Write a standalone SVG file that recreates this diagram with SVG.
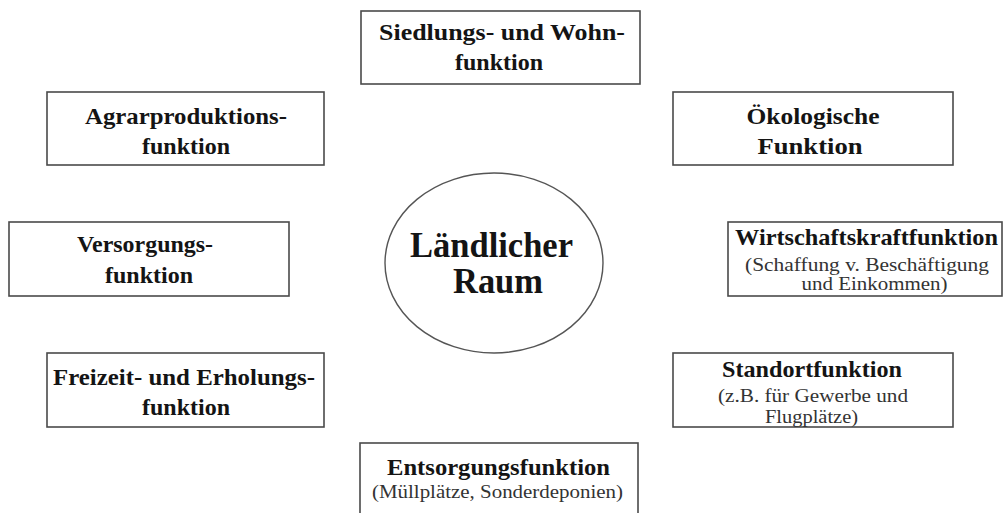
<svg xmlns="http://www.w3.org/2000/svg" width="1003" height="513" viewBox="0 0 1003 513">
<style>
.box{fill:#fff;stroke:#4a4a4a;stroke-width:1.6}
.ell{fill:#fff;stroke:#555;stroke-width:1.4}
text{font-family:"Liberation Serif","Times New Roman",serif;fill:#141414;text-anchor:middle}
.b{font-weight:bold;font-size:23px}
.s{font-size:19px;fill:#333}
.c{font-weight:bold;font-size:35px}
</style>
<rect width="1003" height="513" fill="#fff"/>
<g id="connectors"></g>
<g id="center">
<ellipse class="ell" cx="494" cy="263" rx="109" ry="90"/>
<text class="c" x="491.5" y="257" textLength="163" lengthAdjust="spacingAndGlyphs">Ländlicher</text>
<text class="c" x="498" y="293" textLength="90" lengthAdjust="spacingAndGlyphs">Raum</text>
</g>
<g id="siedlung">
<rect class="box" x="361" y="11" width="279" height="73"/>
<text class="b" x="502" y="40" textLength="246" lengthAdjust="spacingAndGlyphs">Siedlungs- und Wohn-</text>
<text class="b" x="499" y="70" textLength="88" lengthAdjust="spacingAndGlyphs">funktion</text>
</g>
<g id="agrar">
<rect class="box" x="47" y="92" width="277" height="73"/>
<text class="b" x="186" y="124" textLength="202" lengthAdjust="spacingAndGlyphs">Agrarproduktions-</text>
<text class="b" x="186" y="154" textLength="88" lengthAdjust="spacingAndGlyphs">funktion</text>
</g>
<g id="oekologisch">
<rect class="box" x="673" y="92" width="280" height="73"/>
<text class="b" x="813" y="124" textLength="133" lengthAdjust="spacingAndGlyphs">Ökologische</text>
<text class="b" x="810" y="154" textLength="105" lengthAdjust="spacingAndGlyphs">Funktion</text>
</g>
<g id="versorgung">
<rect class="box" x="9" y="222" width="280" height="74"/>
<text class="b" x="145" y="252" textLength="136" lengthAdjust="spacingAndGlyphs">Versorgungs-</text>
<text class="b" x="149" y="283" textLength="88" lengthAdjust="spacingAndGlyphs">funktion</text>
</g>
<g id="wirtschaft">
<rect class="box" x="728" y="222" width="274" height="74"/>
<text class="b" x="866.5" y="245" textLength="263" lengthAdjust="spacingAndGlyphs">Wirtschaftskraftfunktion</text>
<text class="s" x="867" y="271" textLength="244" lengthAdjust="spacingAndGlyphs">(Schaffung v. Beschäftigung</text>
<text class="s" x="874.5" y="290" textLength="146" lengthAdjust="spacingAndGlyphs">und Einkommen)</text>
</g>
<g id="freizeit">
<rect class="box" x="47" y="353" width="277" height="74"/>
<text class="b" x="184" y="385" textLength="262" lengthAdjust="spacingAndGlyphs">Freizeit- und Erholungs-</text>
<text class="b" x="186" y="415" textLength="88" lengthAdjust="spacingAndGlyphs">funktion</text>
</g>
<g id="standort">
<rect class="box" x="673" y="353" width="280" height="74"/>
<text class="b" x="812" y="377" textLength="180" lengthAdjust="spacingAndGlyphs">Standortfunktion</text>
<text class="s" x="813" y="402" textLength="190" lengthAdjust="spacingAndGlyphs">(z.B. für Gewerbe und</text>
<text class="s" x="811.5" y="423" textLength="93" lengthAdjust="spacingAndGlyphs">Flugplätze)</text>
</g>
<g id="entsorgung">
<rect class="box" x="360" y="443" width="278" height="90"/>
<text class="b" x="498.5" y="475" textLength="223" lengthAdjust="spacingAndGlyphs">Entsorgungsfunktion</text>
<text class="s" x="497.5" y="498" textLength="251" lengthAdjust="spacingAndGlyphs">(Müllplätze, Sonderdeponien)</text>
</g>
</svg>
